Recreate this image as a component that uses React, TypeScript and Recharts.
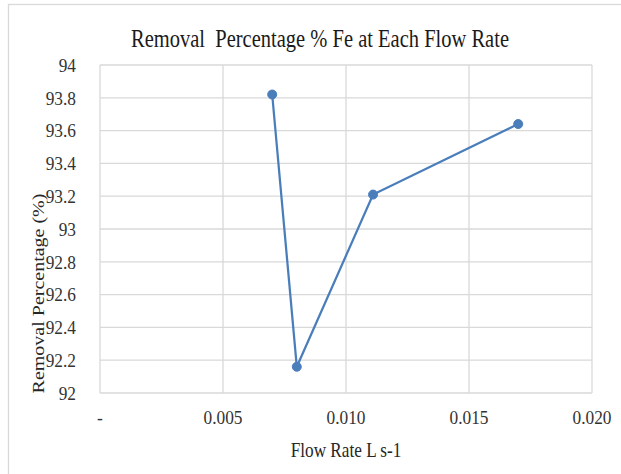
import React from "react";
import { LineChart, Line, XAxis, YAxis, CartesianGrid } from "recharts";

const flowRate = [0.007, 0.008, 0.0111, 0.017];
const removalPct = [93.82, 92.16, 93.21, 93.64];
const xTicks = [0, 0.005, 0.01, 0.015, 0.02];
const xTickLabels = ["-", "0.005", "0.010", "0.015", "0.020"];
const yTicks = [92, 92.2, 92.4, 92.6, 92.8, 93, 93.2, 93.4, 93.6, 93.8, 94];
const yTickLabels = ["92", "92.2", "92.4", "92.6", "92.8", "93", "93.2", "93.4", "93.6", "93.8", "94"];

const titleText = "Removal  Percentage % Fe at Each Flow Rate";
const xTitle = "Flow Rate L s-1";
const yTitle = "Removal Percentage (%)";

const FONT = "'Liberation Serif', 'Times New Roman', serif";
const serif = { fontFamily: FONT };

const data = flowRate.map((x, i) => ({ x, y: removalPct[i] }));

const XTick = (props: any) => {
  const { x, y, payload } = props;
  const i = xTicks.indexOf(payload.value);
  return (
    <text
      x={0}
      y={0}
      transform={`translate(${x},${y + 31}) scale(0.89,1)`}
      textAnchor="middle"
      style={serif}
      fontSize={19.5}
      fill="#333"
    >
      {i >= 0 ? xTickLabels[i] : ""}
    </text>
  );
};

const YTick = (props: any) => {
  const { x, y, payload } = props;
  const i = yTicks.indexOf(payload.value);
  return (
    <text
      x={0}
      y={0}
      dy="0.35em"
      transform={`translate(${x},${y}) scale(0.89,1)`}
      textAnchor="end"
      style={serif}
      fontSize={19.5}
      fill="#333"
    >
      {i >= 0 ? yTickLabels[i] : ""}
    </text>
  );
};

export default function App() {
  return (
    <div style={{ position: "absolute", left: 0, top: 0, width: 621, height: 474, background: "#fff", overflow: "hidden", fontFamily: FONT }}>
      <LineChart width={621} height={474} data={data} margin={{ top: 65, right: 29, left: 0, bottom: 0 }} style={serif}>
        <CartesianGrid stroke="#d9d9d9" strokeWidth={1.3} />
        <XAxis
          type="number"
          dataKey="x"
          domain={[0, 0.02]}
          ticks={xTicks}
          height={81}
          axisLine={false}
          tickLine={false}
          tickSize={0}
          tickMargin={0}
          tick={<XTick />}
          interval={0}
        />
        <YAxis
          type="number"
          domain={[92, 94]}
          ticks={yTicks}
          width={100}
          axisLine={false}
          tickLine={false}
          tickSize={0}
          tickMargin={24}
          tick={<YTick />}
          interval={0}
        />
        <Line
          type="linear"
          dataKey="y"
          stroke="#4a7ebb"
          strokeWidth={2.25}
          dot={{ r: 4.5, fill: "#4a7ebb", stroke: "#4a7ebb", strokeWidth: 1 }}
          isAnimationActive={false}
        />
      </LineChart>
      <svg width={621} height={474} style={{ position: "absolute", left: 0, top: 0, pointerEvents: "none" }}>
        <rect x={8.5} y={4.5} width={700} height={600} fill="none" stroke="#d9d9d9" strokeWidth={1.3} />
        <text
          transform="translate(320,47) scale(0.82,1)"
          textAnchor="middle"
          style={{ ...serif, whiteSpace: "pre" }}
          fontSize={25}
          fill="#1a1a1a"
        >
          {titleText}
        </text>
        <text
          transform="translate(346,457) scale(0.86,1)"
          textAnchor="middle"
          style={serif}
          fontSize={20}
          fill="#262626"
        >
          {xTitle}
        </text>
        <text
          transform="translate(38,293.5) rotate(-90) scale(1,0.86)"
          textAnchor="middle"
          dy="0.35em"
          style={serif}
          fontSize={20}
          fill="#262626"
        >
          {yTitle}
        </text>
      </svg>
    </div>
  );
}
